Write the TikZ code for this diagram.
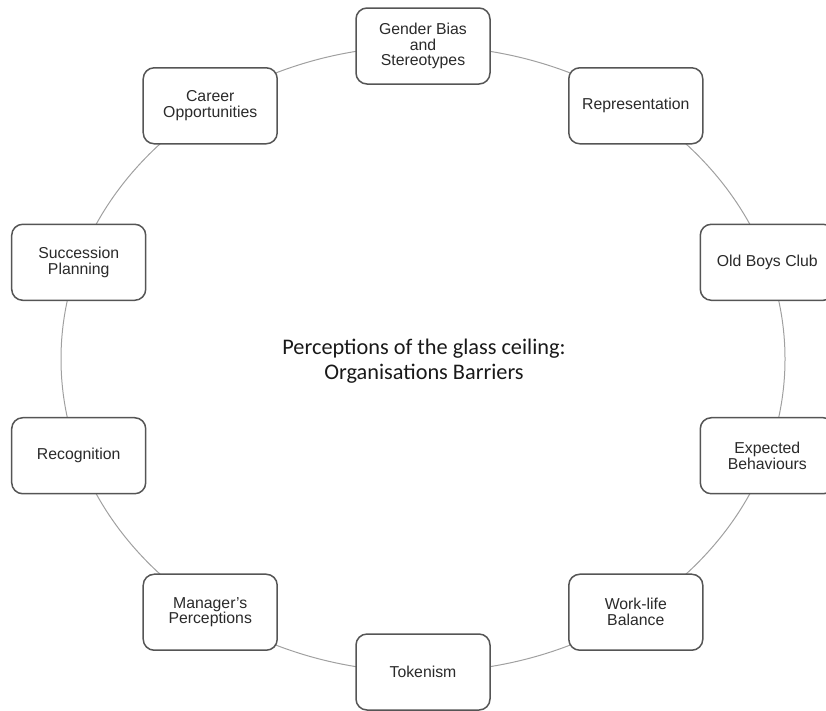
\documentclass[tikz,border=0pt]{standalone}
\usepackage{fontspec}
\usetikzlibrary{calc}
\setmainfont{Liberation Sans}
\newfontfamily\centrefont{Carlito}
\definecolor{boxline}{HTML}{555555}
\definecolor{ringline}{HTML}{A0A0A0}
\definecolor{txt}{HTML}{2A2A2A}
\begin{document}
\begin{tikzpicture}[x=1pt,y=-1pt,
  barrier/.style={draw=boxline, line width=1.5pt, rounded corners=11pt, fill=white,
    minimum width=134pt, minimum height=76pt, inner sep=2pt, align=center, text=txt,
    font=\fontsize{15.8}{15.8}\selectfont},
  ring/.style={draw=ringline, line width=1pt}]
\useasboundingbox (0,0) rectangle (826,710);
\coordinate (c) at (423,359);
\draw[ring] (c) ellipse [x radius=362pt, y radius=313pt];
\foreach \ang/\nm/\txt in {
  90/gb/{Gender Bias\\and\\Stereotypes},
  54/rep/{Representation},
  18/obc/{Old Boys Club},
  -18/eb/{Expected\\Behaviours},
  -54/wl/{Work-life\\Balance},
  -90/tok/{Tokenism},
  -126/mp/{Manager's\\Perceptions},
  -162/rec/{Recognition},
  162/sp/{Succession\\Planning},
  126/co/{Career\\Opportunities}}
{
  \node[barrier] (\nm) at ($(c)+({362*cos(\ang)},{-313*sin(\ang)})$) {\txt};
}
\node[font=\centrefont\fontsize{22.3}{24.5}\selectfont, align=center, text=black!90] (title) at (424,361)
  {Perceptions of the glass ceiling:\\Organisations Barriers};
\end{tikzpicture}
\end{document}
